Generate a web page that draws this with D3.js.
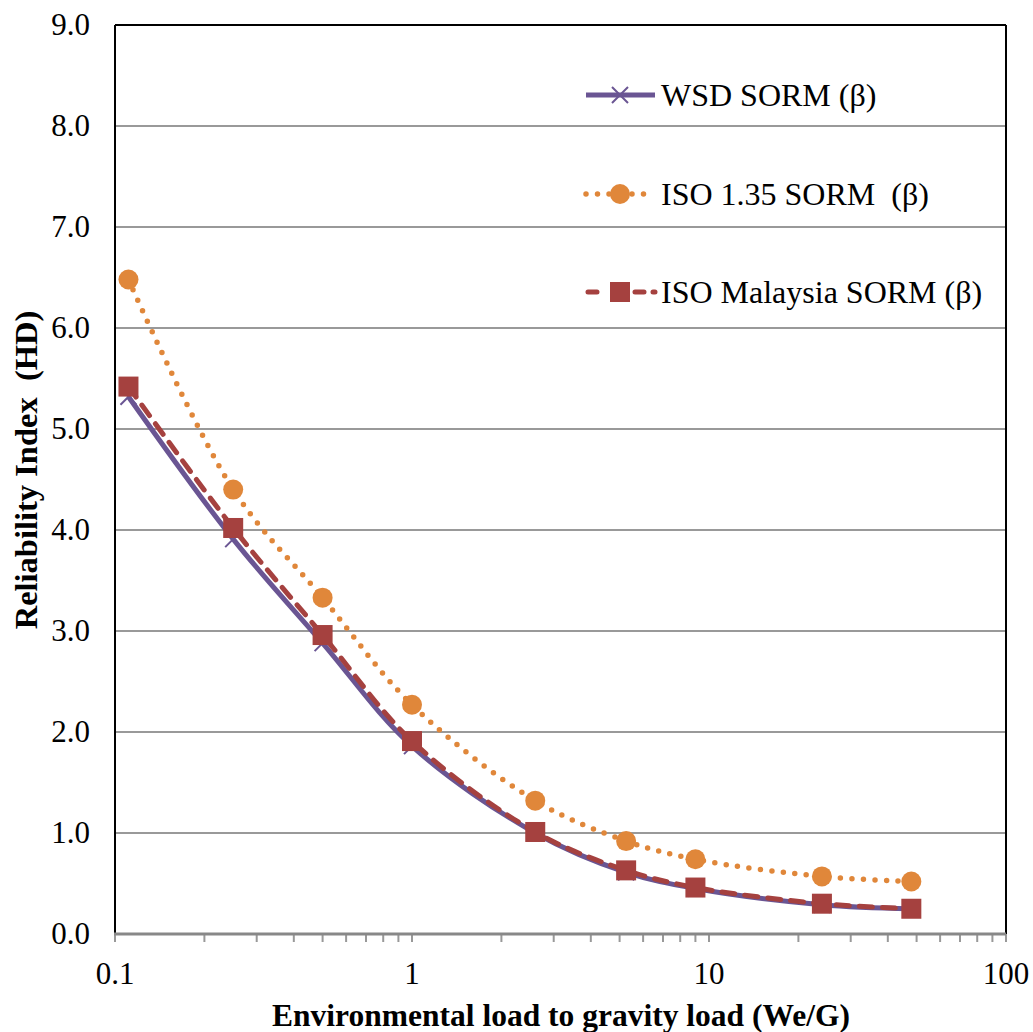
<!DOCTYPE html>
<html>
<head>
<meta charset="utf-8">
<script src="https://cdn.jsdelivr.net/npm/d3@7"></script>
<style>
  body { margin: 0; background: #fff; }
  text { font-family: "Liberation Serif", "Times New Roman", serif; }
</style>
</head>
<body>
<svg width="1033" height="1032"></svg>
<script>
// ratio We/G
var ratios = [0.111, 0.25, 0.5, 1, 2.6, 5.26, 9, 24, 48];
var wsd = [5.32, 3.91, 2.88, 1.86, 1.00, 0.61, 0.45, 0.29, 0.25];
var iso135 = [6.48, 4.40, 3.33, 2.27, 1.32, 0.92, 0.74, 0.57, 0.52];
var isoMalaysia = [5.42, 4.02, 2.96, 1.91, 1.01, 0.63, 0.46, 0.30, 0.25];
var yTicks = [0, 1, 2, 3, 4, 5, 6, 7, 8, 9];
var xTicks = [0.1, 1, 10, 100];
var seriesNames = ["WSD SORM (\u03b2)", "ISO 1.35 SORM  (\u03b2)", "ISO Malaysia SORM (\u03b2)"];

var svg = d3.select("svg");
var pLeft = 115, pRight = 1006, pTop = 25, pBottom = 934;

var x = d3.scaleLog().domain([0.1, 100]).range([pLeft, pRight]);
var y = d3.scaleLinear().domain([0, 9]).range([pBottom, pTop]);

// gridlines
svg.append("g").selectAll("line")
  .data(yTicks.slice(1))
  .enter().append("line")
  .attr("x1", pLeft).attr("x2", pRight)
  .attr("y1", d => y(d)).attr("y2", d => y(d))
  .attr("stroke", "#999").attr("stroke-width", 2);

// y tick labels
svg.append("g").selectAll("text")
  .data(yTicks)
  .enter().append("text")
  .attr("x", pLeft - 25).attr("y", d => y(d) + 10)
  .attr("text-anchor", "end")
  .attr("font-size", 31)
  .text(d => d.toFixed(1));

// x minor/major ticks
var minor = [];
[0.1, 1, 10].forEach(function(b) { for (var i = 1; i <= 10; i++) minor.push(b * i); });
svg.append("g").selectAll("line")
  .data(minor)
  .enter().append("line")
  .attr("x1", d => x(d)).attr("x2", d => x(d))
  .attr("y1", pBottom).attr("y2", pBottom + 8)
  .attr("stroke", "#999").attr("stroke-width", 2);

svg.append("g").selectAll("text")
  .data(xTicks)
  .enter().append("text")
  .attr("x", d => x(d)).attr("y", pBottom + 50)
  .attr("text-anchor", "middle")
  .attr("font-size", 31)
  .text(d => d);

// frame
svg.append("line").attr("x1", pLeft).attr("x2", pRight).attr("y1", pTop).attr("y2", pTop)
  .attr("stroke", "#000").attr("stroke-width", 2);
svg.append("line").attr("x1", pRight).attr("x2", pRight).attr("y1", pTop).attr("y2", pBottom)
  .attr("stroke", "#000").attr("stroke-width", 2);
svg.append("line").attr("x1", pLeft).attr("x2", pLeft).attr("y1", pTop).attr("y2", pBottom)
  .attr("stroke", "#000").attr("stroke-width", 2);
svg.append("line").attr("x1", pLeft - 1).attr("x2", pRight).attr("y1", pBottom).attr("y2", pBottom)
  .attr("stroke", "#888").attr("stroke-width", 3);

// axis titles
svg.append("text")
  .attr("x", 561).attr("y", 1026)
  .attr("text-anchor", "middle")
  .attr("font-size", 31.5).attr("font-weight", "bold")
  .text("Environmental load to gravity load (We/G)");
svg.append("text")
  .attr("transform", "translate(37," + 470 + ") rotate(-90)")
  .attr("text-anchor", "middle")
  .attr("font-size", 32.5).attr("font-weight", "bold")
  .attr("xml:space", "preserve")
  .style("white-space", "pre")
  .text("Reliability Index  (HD)");

var line = d3.line()
  .x(d => x(d[0])).y(d => y(d[1]))
  .curve(d3.curveCatmullRom.alpha(0.5));

var purple = "#6a5593", orange = "#e0873a", red = "#a5413f";

function pts(vals) { return ratios.map((r, i) => [r, vals[i]]); }

// WSD
svg.append("path").attr("d", line(pts(wsd)))
  .attr("fill", "none").attr("stroke", purple).attr("stroke-width", 5);
// ISO 1.35
svg.append("path").attr("d", line(pts(iso135)))
  .attr("fill", "none").attr("stroke", orange).attr("stroke-width", 5.5)
  .attr("stroke-linecap", "round").attr("stroke-dasharray", "0 11.5");
// ISO Malaysia
svg.append("path").attr("d", line(pts(isoMalaysia)))
  .attr("fill", "none").attr("stroke", red).attr("stroke-width", 5)
  .attr("stroke-linecap", "round").attr("stroke-dasharray", "13 10");

function cross(g, cx, cy) {
  g.append("path")
    .attr("d", "M" + (cx - 8) + "," + (cy - 8) + "L" + (cx + 8) + "," + (cy + 8) +
      "M" + (cx - 8) + "," + (cy + 8) + "L" + (cx + 8) + "," + (cy - 8))
    .attr("stroke", purple).attr("stroke-width", 2);
}
function circle(g, cx, cy) {
  g.append("circle").attr("cx", cx).attr("cy", cy).attr("r", 10).attr("fill", orange);
}
function square(g, cx, cy) {
  g.append("rect").attr("x", cx - 10).attr("y", cy - 10).attr("width", 20).attr("height", 20)
    .attr("fill", red);
}

var gm = svg.append("g");
pts(wsd).forEach(d => cross(gm, x(d[0]), y(d[1])));
pts(iso135).forEach(d => circle(gm, x(d[0]), y(d[1])));
pts(isoMalaysia).forEach(d => square(gm, x(d[0]), y(d[1])));

// legend
var lg = svg.append("g");
var legendY = [95, 194, 292];
lg.append("line").attr("x1", 586).attr("x2", 655).attr("y1", legendY[0]).attr("y2", legendY[0])
  .attr("stroke", purple).attr("stroke-width", 5);
cross(lg, 620, legendY[0]);
lg.append("line").attr("x1", 586).attr("x2", 655).attr("y1", legendY[1]).attr("y2", legendY[1])
  .attr("stroke", orange).attr("stroke-width", 5.5).attr("stroke-linecap", "round")
  .attr("stroke-dasharray", "0 11.5");
circle(lg, 620, legendY[1]);
lg.append("line").attr("x1", 588).attr("x2", 655).attr("y1", legendY[2]).attr("y2", legendY[2])
  .attr("stroke", red).attr("stroke-width", 5).attr("stroke-linecap", "round")
  .attr("stroke-dasharray", "9 38 9");
square(lg, 620, legendY[2]);

lg.selectAll("text.leg")
  .data(seriesNames)
  .enter().append("text")
  .attr("class", "leg")
  .attr("x", 661).attr("y", (d, i) => legendY[i] + 11)
  .attr("font-size", 32)
  .attr("xml:space", "preserve")
  .style("white-space", "pre")
  .text(d => d);
</script>
</body>
</html>
